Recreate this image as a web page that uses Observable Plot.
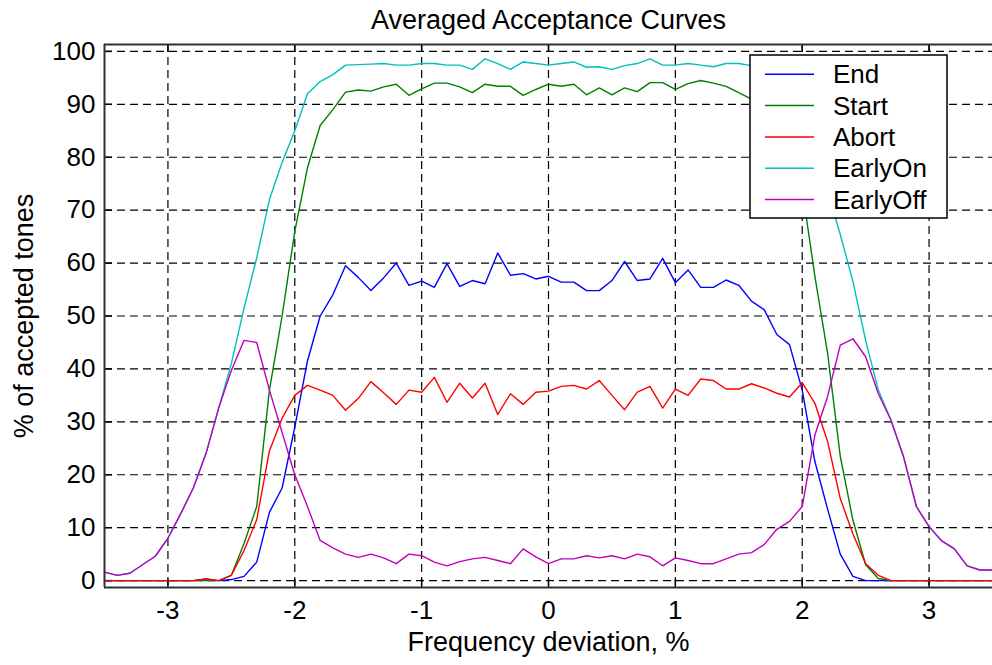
<!DOCTYPE html>
<html><head><meta charset="utf-8">
<script src="https://cdn.jsdelivr.net/npm/d3@7"></script>
<script src="https://cdn.jsdelivr.net/npm/@observablehq/plot@0.6"></script>
<style>
html,body{margin:0;padding:0;background:#fff;overflow:hidden}
</style></head><body><div id="chart"></div>
<script>
const xValues = [-3.5,-3.4,-3.3,-3.2,-3.1,-3.0,-2.9,-2.8,-2.7,-2.6,-2.5,-2.4,-2.3,-2.2,-2.1,-2.0,-1.9,-1.8,-1.7,-1.6,-1.5,-1.4,-1.3,-1.2,-1.1,-1.0,-0.9,-0.8,-0.7,-0.6,-0.5,-0.4,-0.3,-0.2,-0.1,0,0.1,0.2,0.3,0.4,0.5,0.6,0.7,0.8,0.9,1.0,1.1,1.2,1.3,1.4,1.5,1.6,1.7,1.8,1.9,2.0,2.1,2.2,2.3,2.4,2.5,2.6,2.7,2.8,2.9,3.0,3.1,3.2,3.3,3.4,3.5];

const endValues = [0,0,0,0,0,0,0,0,
  0.3,0,0.2,0.8,3.5,12.9,17.5,29,41.5,50,54,59.5,
  57.3,54.8,57.2,60.0,55.8,56.6,55.4,59.9,55.6,56.7,
  56.1,61.9,57.7,58.0,57.0,57.5,56.4,56.4,54.8,54.8,
  56.7,60.3,56.7,57.0,60.9,56.3,58.7,55.4,55.4,56.8,
  55.8,52.8,51.2,46.5,44.6,36,22.5,13.5,5.0,0.8,
  0,0,0,0,0,0,0,0,0,0,0];

const startValues = [0,0,0,0,0,0,0,0,0,0,
  1.0,7,14,36,50,66,78,86,89,92.3,
  92.7,92.5,93.3,93.8,91.7,92.9,94.0,94.0,93.3,92.2,
  93.8,93.4,93.4,91.7,92.8,93.8,93.4,93.8,91.8,93.1,
  91.8,93.1,92.4,94.1,94.1,92.8,93.9,94.5,94.0,93.4,
  92.2,91.0,89.5,86,80,74,57.5,43,23.5,11.4,
  3,0.4,0,0,0,0,0,0,0,0,0];

const abortValues = [0,0,0,0,0,0,0,0,
  0.3,0,1.0,5.7,11.5,24.5,30.7,35,36.9,36,35,32.2,
  34.4,37.6,35.5,33.3,36.0,35.6,38.4,33.7,37.3,34.5,
  37.3,31.4,35.3,33.3,35.6,35.8,36.7,36.9,36.2,37.8,
  35.0,32.3,35.6,36.7,32.6,36.2,35.0,38.1,37.8,36.2,
  36.2,37.2,36.4,35.4,34.7,37.4,33.5,26.3,15.5,8.8,
  3.2,1.0,0,0,0,0,0,0,0,0,0];

const earlyOnValues = [1.6,1.0,1.4,3.0,4.6,8.0,12.6,17.5,24,32.6,
  41,51.5,61,72,79,85,92,94.3,95.6,97.4,
  97.5,97.6,97.7,97.4,97.4,97.7,97.7,97.4,97.4,96.6,
  98.6,97.7,96.6,98.0,97.7,97.4,97.7,98.0,97.0,97.1,
  96.6,97.3,97.7,98.6,97.4,97.4,97.7,97.4,97.1,97.7,
  97.7,97.3,96.5,95.5,93,88,81,73.5,65.4,56.5,
  45.4,36,30.3,23.3,14,10.2,7.5,6.0,2.8,2.0,2.0];

const earlyOffValues = [1.6,1.0,1.4,3.0,4.6,8.0,12.6,17.5,24,32.6,
  39.7,45.4,45.0,36,28,20,14,7.6,6.2,5.0,
  4.4,5.0,4.3,3.2,5.0,4.7,3.5,2.8,3.6,4.1,
  4.4,3.8,3.2,6.0,4.5,3.2,4.1,4.1,4.7,4.3,
  4.7,4.1,5.0,4.5,2.8,4.3,3.8,3.2,3.2,4.1,
  5.0,5.3,6.8,9.7,11.2,14.0,27.5,34.8,44.5,45.7,
  42.3,35.3,30.3,23.3,14,10.2,7.5,6.0,2.8,2.0,2.0];

const seriesNames = ["End","Start","Abort","EarlyOn","EarlyOff"];
const seriesColors = ["#0000ff","#008000","#ff0000","#00bfbf","#bf00bf"];
const xTicks = [-3,-2,-1,0,1,2,3];
const yTicks = [0,10,20,30,40,50,60,70,80,90,100];
const titleText = "Averaged Acceptance Curves";
const xLabelText = "Frequency deviation, %";
const yLabelText = "% of accepted tones";

const seriesValues = [endValues, startValues, abortValues, earlyOnValues, earlyOffValues];
const seriesData = seriesNames.map((name, k) => xValues.map((x, i) => ({series: name, x, y: seriesValues[k][i]})));

const W = 992, H = 665, mt = 44, mb = 78, ml = 104, mr = 0;
const fh = H - mt - mb, fw = W - ml - mr;
const font = "'Liberation Sans', Arial, Helvetica, sans-serif";
const fs = 26, fsLabel = 27;
const tickLen = 8;

const chart = Plot.plot({
  width: W, height: H,
  marginTop: mt, marginBottom: mb, marginLeft: ml, marginRight: mr,
  style: {fontFamily: font, fontSize: fs + "px", color: "#000", background: "#fff", overflow: "visible"},
  x: {domain: [-3.5, 3.5]},
  y: {domain: [-1.3, 101.3]},
  marks: [
    Plot.gridX(xTicks, {stroke: "#000", strokeOpacity: 1, strokeWidth: 1.2, strokeDasharray: "8,5"}),
    Plot.gridY(yTicks, {stroke: "#000", strokeOpacity: 1, strokeWidth: 1.2, strokeDasharray: "8,5"}),
    Plot.tickX(xTicks, {insetTop: fh - tickLen, stroke: "#000", strokeWidth: 1.5}),
    Plot.tickX(xTicks, {insetBottom: fh - tickLen, stroke: "#000", strokeWidth: 1.5}),
    Plot.tickY(yTicks, {insetRight: fw - tickLen, stroke: "#000", strokeWidth: 1.5}),
    ...seriesData.map((d, k) => Plot.line(d, {x: "x", y: "y", stroke: seriesColors[k], strokeWidth: 1.4})),
    Plot.ruleX([-3.5], {stroke: "#303030", strokeWidth: 2}),
    Plot.ruleY([-1.3, 101.3], {stroke: "#303030", strokeWidth: 2}),
    Plot.axisX(xTicks, {tickSize: 0, tickPadding: 13, tickFormat: d => String(d), label: null, fontSize: fs}),
    Plot.axisY(yTicks, {tickSize: 0, tickPadding: 9, tickFormat: d => String(d), label: null, fontSize: fs}),
    Plot.text([titleText], {frameAnchor: "top", dy: -35, fontSize: fsLabel, textAnchor: "middle"}),
    Plot.text([xLabelText], {frameAnchor: "bottom", dy: 63, fontSize: fsLabel, textAnchor: "middle"}),
    Plot.text([yLabelText], {frameAnchor: "left", dx: -80, rotate: -90, fontSize: fsLabel, textAnchor: "middle"})
  ]
});

// Legend box (MATLAB style, drawn inside the axes)
const svg = d3.select(chart);
const lg = svg.append("g").attr("font-family", font).attr("font-size", fs).attr("text-anchor", "start");
lg.append("rect").attr("x", 750).attr("y", 55).attr("width", 197).attr("height", 163)
  .attr("fill", "#fff").attr("stroke", "#000").attr("stroke-width", 1.5);
seriesNames.forEach((name, k) => {
  const y = 74.3 + k * 31.3;
  lg.append("line").attr("x1", 765).attr("x2", 814).attr("y1", y).attr("y2", y)
    .attr("stroke", seriesColors[k]).attr("stroke-width", 1.5);
  lg.append("text").attr("x", 833).attr("y", y).attr("dy", "0.35em").attr("fill", "#000")
    .attr("text-anchor", "start").text(name);
});

document.getElementById("chart").appendChild(chart);
</script>
</body></html>
